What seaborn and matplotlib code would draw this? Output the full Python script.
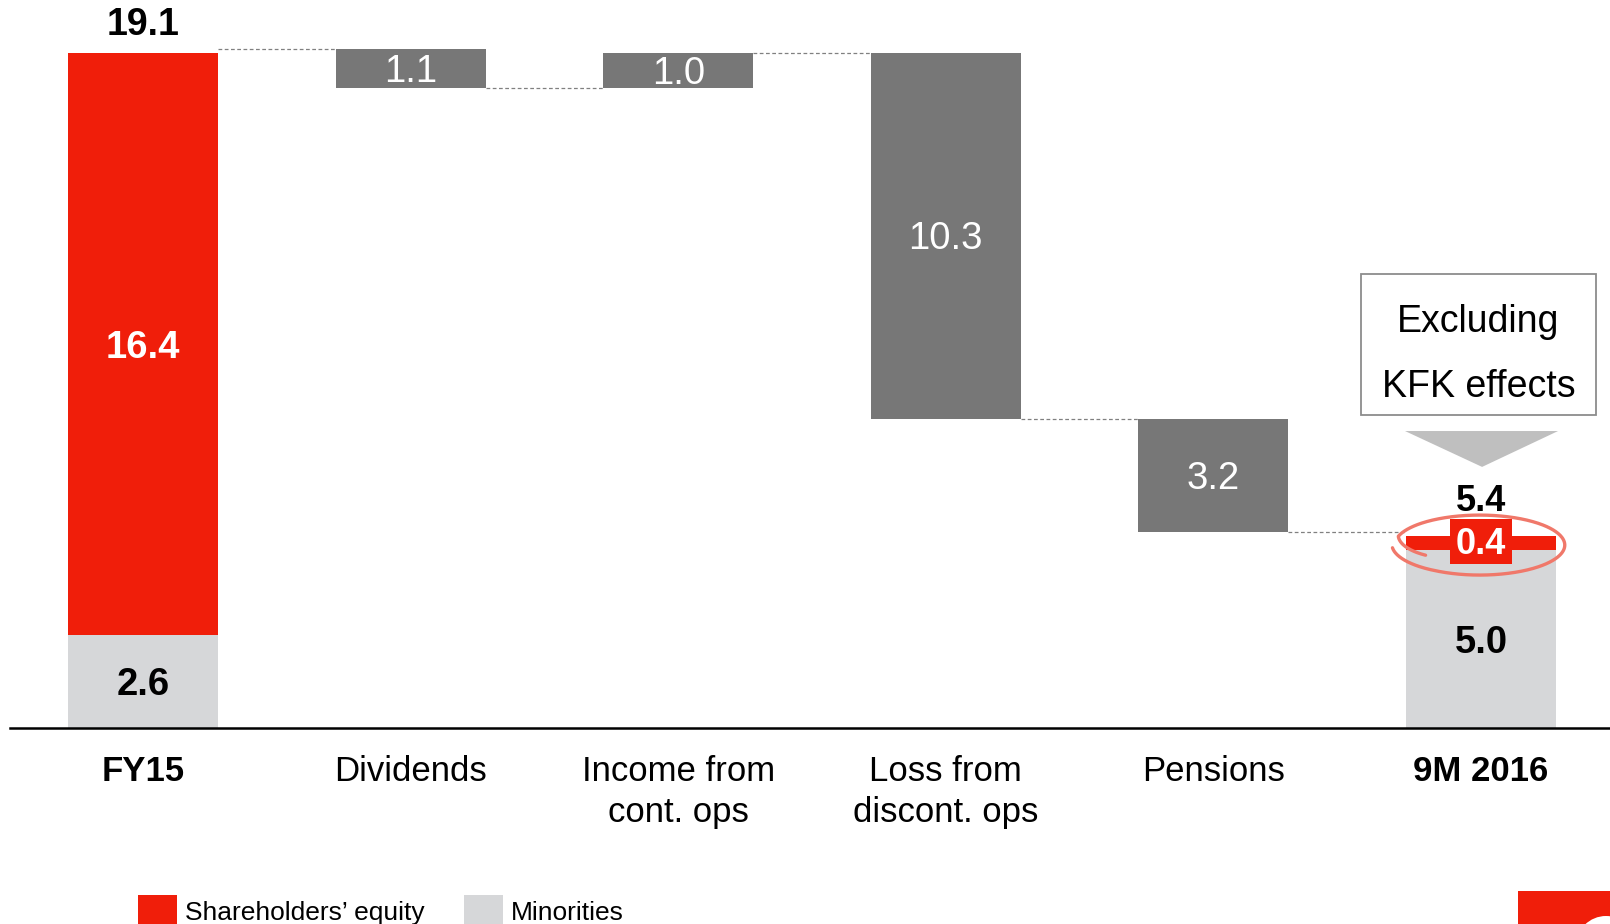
import numpy as np
import pandas as pd
import matplotlib
matplotlib.use("Agg")
import matplotlib.pyplot as plt
from matplotlib.patches import Rectangle, Polygon, Ellipse
from matplotlib.transforms import offset_copy
import seaborn as sns

# ---- data -------------------------------------------------------------
categories = ["FY15", "Dividends", "Income from\ncont. ops",
              "Loss from\ndiscont. ops", "Pensions", "9M 2016"]
minorities = [2.6, 0, 0, 0, 0, 5.0]
equity = [16.4, 0, 0, 0, 0, 0.4]
changes = [-1.1, 1.0, -10.3, -3.2]          # Dividends, Income, Loss, Pensions
totals = [19.1, 5.4]                         # FY15, 9M 2016
legend_labels = ["Shareholders\u2019 equity", "Minorities"]
callout_lines = ["Excluding", "KFK effects"]

RED = "#F01E0A"
DARK = "#777777"
LIGHT = "#D6D7D9"

sns.set_theme(style="white")
plt.rcParams["font.family"] = ["Liberation Sans", "DejaVu Sans"]

# running level through the waterfall
levels = [totals[0]]
for c in changes:
    levels.append(levels[-1] + c)
step_bottom = [0] + [min(levels[i], levels[i + 1]) for i in range(len(changes))] + [0]
step_height = [0] + [abs(c) for c in changes] + [0]

df = pd.DataFrame({"category": categories, "minorities": minorities,
                   "equity": equity, "step": step_height})

W, H = 1610, 924
fig = plt.figure(figsize=(W / 100, H / 100), dpi=100)
base_px = 727.7
px_per_unit = 35.53
ax = fig.add_axes([10 / W, (H - base_px) / H, 1600 / W, base_px / H])

bw = 0.56
common = dict(x="category", order=categories, width=bw, saturation=1,
              linewidth=0, errorbar=None, ax=ax)
sns.barplot(data=df, y="minorities", color=LIGHT, **common)
sns.barplot(data=df, y="equity", color=RED, bottom=minorities, **common)
sns.barplot(data=df, y="step", color=DARK, bottom=step_bottom, **common)

ax.set_xlim(-0.497, 5.482)
ax.set_ylim(0, base_px / px_per_unit)
ax.set_xlabel("")
ax.set_ylabel("")
ax.set_yticks([])
for s in ["top", "right", "left"]:
    ax.spines[s].set_visible(False)
ax.spines["bottom"].set_color("black")
ax.spines["bottom"].set_linewidth(1.8)

ax.set_xticks(range(len(categories)))
ax.set_xticklabels(categories, fontsize=25, color="black", linespacing=1.3)
ax.tick_params(axis="x", length=0, pad=19.7)
for i, lab in enumerate(ax.get_xticklabels()):
    if i in (0, len(categories) - 1):
        lab.set_fontweight("bold")

# ---- connectors -------------------------------------------------------
for i in range(len(categories) - 1):
    ax.plot([i + bw / 2, i + 1 - bw / 2], [levels[i], levels[i]],
            color="#808080", lw=0.9, ls=(0, (3, 2)), zorder=1)


# ---- value labels -----------------------------------------------------
def label(x, y, s, fs, **kw):
    """Centre the digits (not the line box) on (x, y)."""
    tr = offset_copy(ax.transData, fig=fig, x=0, y=-0.358 * fs, units="points")
    ax.text(x, y, s, ha="center", va="baseline", fontsize=fs,
            transform=tr, **kw)


fs = 27.5
last = len(categories) - 1
label(0, minorities[0] + equity[0] / 2, f"{equity[0]:.1f}", fs,
      fontweight="bold", color="white")
label(0, minorities[0] / 2, f"{minorities[0]:.1f}", fs,
      fontweight="bold", color="black")
label(last, minorities[last] / 2, f"{minorities[last]:.1f}", fs,
      fontweight="bold", color="black")
label(0, totals[0] + 0.776, f"{totals[0]:.1f}", 27,
      fontweight="bold", color="black")
label(last, totals[1] + 1.065, f"{totals[1]:.1f}", 26,
      fontweight="bold", color="black")
for i, c in enumerate(changes, start=1):
    label(i, step_bottom[i] + step_height[i] / 2, f"{abs(c):.1f}", fs,
          color="white")

# equity slice of the closing bar: label on a red tab
eq_mid = minorities[last] + equity[last] / 2
ax.add_patch(Rectangle((last - 0.1175, eq_mid + 0.04 - 0.62), 0.235, 1.24,
                       fc=RED, ec="none", zorder=4))
label(last, eq_mid + 0.04, f"{equity[last]:.1f}", 26,
      fontweight="bold", color="white", zorder=5)

# ---- highlight swoosh round the equity slice --------------------------
cx, cy = last - 0.005, eq_mid - 0.06
a, b = 0.318, 0.844
t = np.radians(np.linspace(208, -175, 400))
r = np.clip(0.72 + (np.radians(208) - t) / np.radians(45) * 0.28, 0, 1.0)
r = r + np.where(t < np.radians(-120), (np.radians(-120) - t) * 0.03, 0)
ax.plot(cx + a * r * np.cos(t), cy + b * r * np.sin(t),
        color="#F0786A", lw=2.4, solid_capstyle="round", zorder=6, clip_on=False)

# ---- callout box and arrow -------------------------------------------
ax.add_patch(Rectangle((4.552, 8.80), 5.43 - 4.552, 12.77 - 8.80,
                       fc="white", ec="#8C8C8C", lw=1.3, zorder=4, clip_on=False))
ax.text(4.99, 11.146, callout_lines[0], ha="center", va="baseline", fontsize=27,
        color="black", zorder=5)
ax.text(4.99, 9.316, callout_lines[1], ha="center", va="baseline", fontsize=27,
        color="black", zorder=5)
ax.add_patch(Polygon([[4.716, 8.35], [5.288, 8.35], [5.004, 7.34]],
                     closed=True, fc="#BFBFBF", ec="none", zorder=4))

# ---- legend (figure coordinates) ---------------------------------------
fig.add_artist(Rectangle((138 / W, (H - 934) / H), 39 / W, 39 / H,
                         transform=fig.transFigure, fc=RED, ec="none"))
fig.text(185 / W, (H - 920) / H, legend_labels[0], fontsize=19,
         color="black", va="baseline", ha="left")
fig.add_artist(Rectangle((464 / W, (H - 934) / H), 39 / W, 39 / H,
                         transform=fig.transFigure, fc=LIGHT, ec="none"))
fig.text(511 / W, (H - 920) / H, legend_labels[1], fontsize=19,
         color="black", va="baseline", ha="left")

# corner brand mark
fig.add_artist(Rectangle((1518 / W, 0), (W - 1518) / W, (H - 891) / H,
                         transform=fig.transFigure, fc=RED, ec="none"))
fig.add_artist(Ellipse((1606 / W, -22 / H), 60 / W, 60 / H,
                       transform=fig.transFigure, fc="white", ec="none"))

fig.savefig("out.png", dpi=100, facecolor="white")
